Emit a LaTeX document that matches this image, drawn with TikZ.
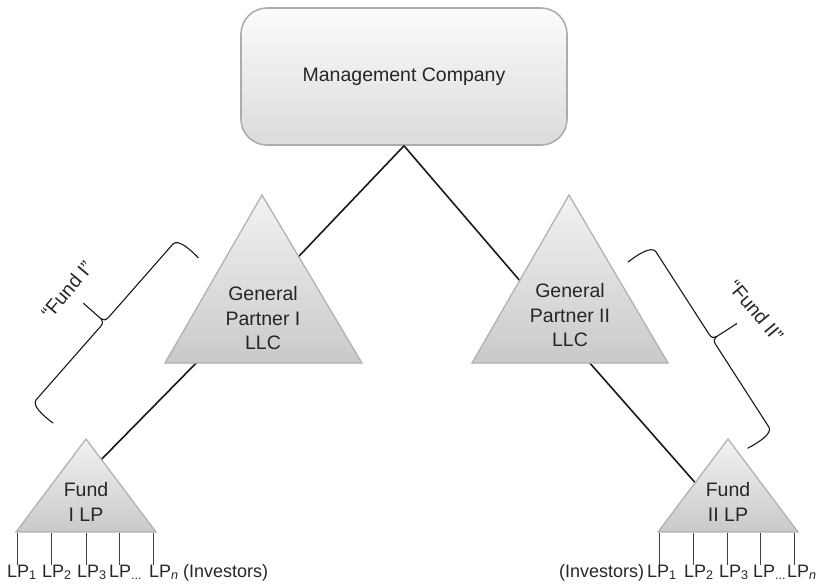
\documentclass[tikz,border=0pt]{standalone}
\usepackage{fontspec}
\setmainfont{Liberation Sans}
\usetikzlibrary{calc}
\begin{document}
\begin{tikzpicture}[x=1pt,y=-1pt,
  conn/.style={line width=1.6pt, draw=black!90},
  tri/.style={top color=gray!10, bottom color=gray!42, draw=gray!60, line width=1.3pt, line join=miter},
  lbl/.style={font=\fontsize{19.5}{24.5}\selectfont, align=center, inner sep=0pt, text=black!85},
  lpline/.style={line width=0.7pt, draw=black!75},
  lp/.style={font=\fontsize{18}{22}\selectfont, anchor=base west, inner sep=0pt, text=black!85},
  bracestyle/.style={line width=1.1pt, line join=round, line cap=round, draw=black!90},
  fundlbl/.style={font=\fontsize{19.5}{24}\selectfont, inner sep=0pt, text=black!85}
]
\useasboundingbox (0,0) rectangle (824,588);

% hidden connector ends (inside the triangles)
\coordinate (gp1in) at (263,294);
\coordinate (gp2in) at (545,310);
\coordinate (gp1low) at (206,353);
\coordinate (f1in) at (91,470);
\coordinate (gp2low) at (581,353);
\coordinate (f2in) at (706,495);

% management company
\node[draw=gray!65, line width=1.6pt, rounded corners=26pt, top color=gray!3, bottom color=gray!28,
      minimum width=326pt, minimum height=137pt, lbl] (mc) at (404,76.5) {Management Company};

% connectors
\draw[conn] (mc.south) -- (gp1in);
\draw[conn] (mc.south) -- (gp2in);
\draw[conn] (gp1low) -- (f1in);
\draw[conn] (gp2low) -- (f2in);

% triangles
\path[tri] (262,195) -- (362,363) -- (165,363) -- cycle;
\path[tri] (569,195) -- (668,363) -- (472,363) -- cycle;
\path[tri] (86,439) -- (156,532) -- (16,532) -- cycle;
\path[tri] (728,439) -- (798,532) -- (658,532) -- cycle;

\node[lbl] (gp1) at (263,318.5) {General\\Partner I\\LLC};
\node[lbl] (gp2) at (570,315.5) {General\\Partner II\\LLC};
\node[lbl] (f1) at (86,502) {Fund\\I LP};
\node[lbl] (f2) at (728,502) {Fund\\II LP};

% investor legs
\foreach \x in {17,51,86,119,153,659,693,727,760,794}
  \draw[lpline] (\x,533) -- (\x,565);

\node[lp] (l1) at (7,577) {LP\textsubscript{1}};
\node[lp] (l2) at (42,577) {LP\textsubscript{2}};
\node[lp] (l3) at (77,577) {LP\textsubscript{3}};
\node[lp] (l4) at (109,577) {LP\textsubscript{...}};
\node[lp] (l5) at (149,577) {LP\textsubscript{\textit{n}}};
\node[lp] (linv) at (183,577) {(Investors)};

\node[lp] (rinv) at (559,577) {(Investors)};
\node[lp] (r1) at (647,577) {LP\textsubscript{1}};
\node[lp] (r2) at (684,577) {LP\textsubscript{2}};
\node[lp] (r3) at (719,577) {LP\textsubscript{3}};
\node[lp] (r4) at (753,577) {LP\textsubscript{...}};
\node[lp] (r5) at (787,577) {LP\textsubscript{\textit{n}}};

% Fund I brace
\begin{scope}[shift={(53,423)}, rotate=48.7, y=1pt]
  \draw[bracestyle] (0,0) .. controls (-1,12) and (-1,27) .. (6,28) -- (104,28)
    .. controls (108,28) and (110,30) .. (110,33)
    .. controls (110,30) and (112,28) .. (116,28) -- (214,28)
    .. controls (221,27) and (221,12) .. (220,0);
  \draw[bracestyle] (110,33) -- (110,56);
\end{scope}
% Fund II brace
\begin{scope}[shift={(628,262)}, rotate=-57.2, y=1pt]
  \draw[bracestyle] (0,0) .. controls (-1,12) and (-1,28) .. (6,29) -- (105,29)
    .. controls (109,29) and (110.7,31) .. (110.7,34)
    .. controls (110.7,31) and (112.5,29) .. (116.5,29) -- (215.5,29)
    .. controls (222.5,28) and (222.5,12) .. (221.4,0);
  \draw[bracestyle] (110.7,34) -- (110.7,58);
\end{scope}

\node[fundlbl, rotate=50] (fund1) at (67,290) {“Fund I”};
\node[fundlbl, rotate=-50] (fund2) at (756,311) {“Fund II”};
\end{tikzpicture}
\end{document}
